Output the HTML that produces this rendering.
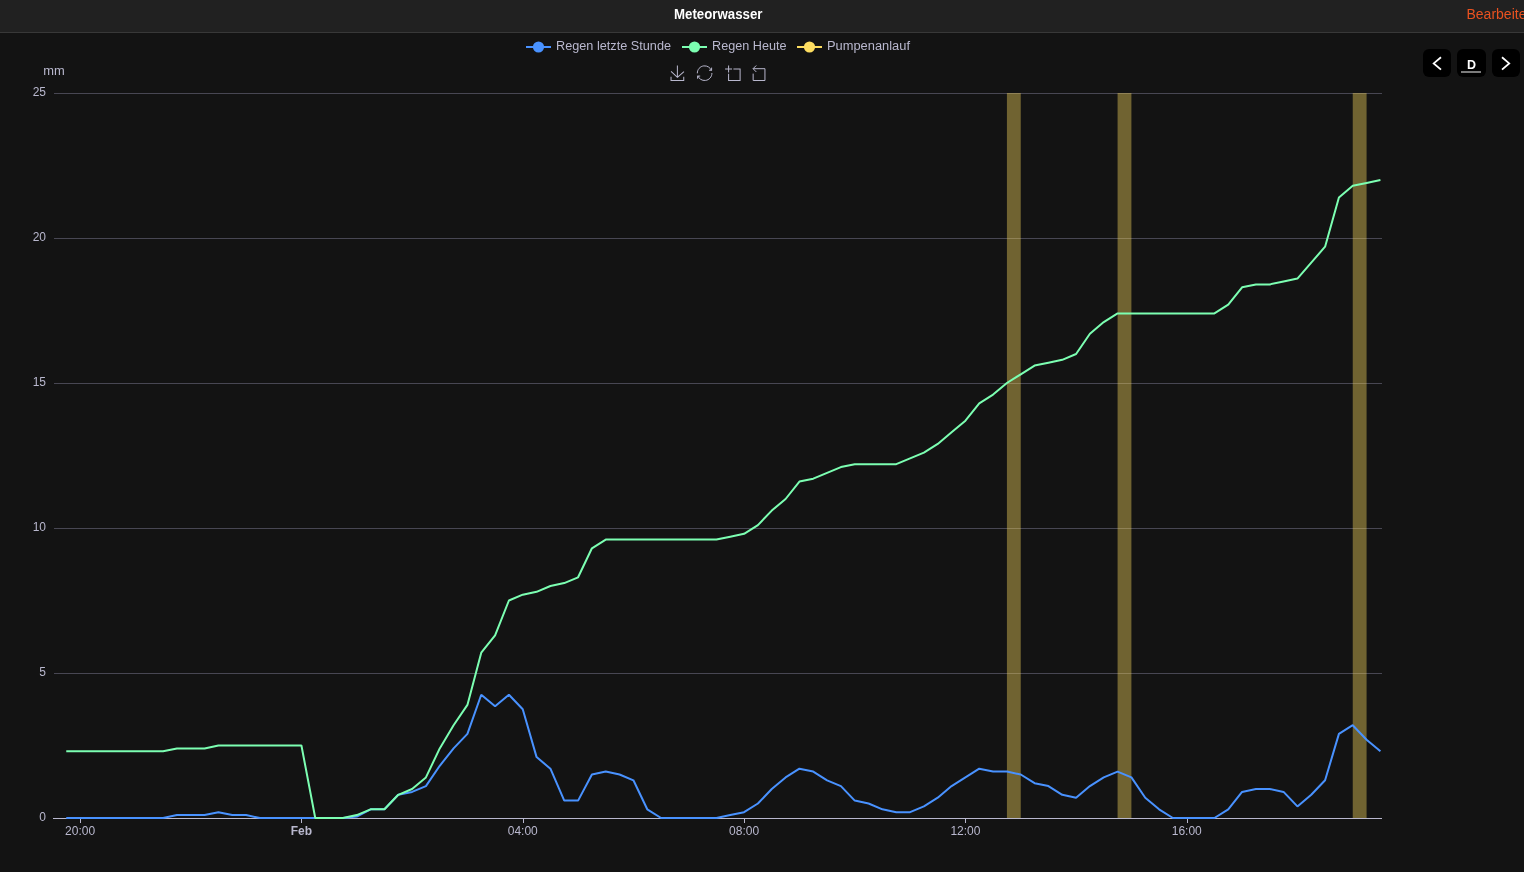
<!DOCTYPE html>
<html><head><meta charset="utf-8"><title>Meteorwasser</title>
<style>
svg{will-change:transform;}
html,body{margin:0;padding:0;width:1524px;height:872px;overflow:hidden;background:#131313;}
.hdr{position:absolute;left:0;top:0;width:1524px;height:32px;background:#212121;border-bottom:1px solid #383838;}
.title{position:absolute;left:0;top:0;width:1436px;text-align:center;}
.btn{position:absolute;top:49px;width:28px;height:28px;background:#000;border-radius:6px;}
</style></head>
<body>
<div class="hdr"></div>
<svg width="1524" height="33" style="position:absolute;left:0;top:0">
<text x="674" y="19" font-family='"Liberation Sans", "Noto Sans CJK SC", sans-serif' font-size="14" font-weight="bold" fill="#ffffff" textLength="88.5" lengthAdjust="spacingAndGlyphs">Meteorwasser</text>
<text x="1466.5" y="19" font-family='"Liberation Sans", "Noto Sans CJK SC", sans-serif' font-size="14" fill="#ea5220">Bearbeiten</text>
</svg>
<svg width="1524" height="872" viewBox="0 0 1524 872" style="position:absolute;left:0;top:0">
<g stroke="#484753" stroke-width="1" shape-rendering="crispEdges"><line x1="54" y1="93.5" x2="1382" y2="93.5"/><line x1="54" y1="238.5" x2="1382" y2="238.5"/><line x1="54" y1="383.5" x2="1382" y2="383.5"/><line x1="54" y1="528.5" x2="1382" y2="528.5"/><line x1="54" y1="673.5" x2="1382" y2="673.5"/></g>
<g fill="#B9B8CE" font-family='"Liberation Sans", "Noto Sans CJK SC", sans-serif' font-size="12" text-anchor="end"><text x="46" y="821.2">0</text><text x="46" y="676.2">5</text><text x="46" y="531.2">10</text><text x="46" y="386.2">15</text><text x="46" y="241.2">20</text><text x="46" y="96.2">25</text></g>
<text x="54" y="75.2" textLength="21.5" lengthAdjust="spacingAndGlyphs" fill="#B9B8CE" font-family='"Liberation Sans", "Noto Sans CJK SC", sans-serif' font-size="12" text-anchor="middle">mm</text>
<g stroke="#B9B8CE" stroke-width="1" shape-rendering="crispEdges"><line x1="53" y1="818.5" x2="1382" y2="818.5"/><line x1="80.5" y1="818.5" x2="80.5" y2="823"/><line x1="301.5" y1="818.5" x2="301.5" y2="823"/><line x1="523.5" y1="818.5" x2="523.5" y2="823"/><line x1="744.5" y1="818.5" x2="744.5" y2="823"/><line x1="965.5" y1="818.5" x2="965.5" y2="823"/><line x1="1187.5" y1="818.5" x2="1187.5" y2="823"/></g>
<g fill="rgba(253,221,96,0.4)"><rect x="1006.92" y="93" width="13.83" height="725"/><rect x="1117.58" y="93" width="13.83" height="725"/><rect x="1352.75" y="93" width="13.83" height="725"/></g>
<polyline points="66.25,818.00 80.08,818.00 93.92,818.00 107.75,818.00 121.58,818.00 135.42,818.00 149.25,818.00 163.08,818.00 176.92,815.10 190.75,815.10 204.58,815.10 218.42,812.20 232.25,815.10 246.08,815.10 259.92,818.00 273.75,818.00 287.58,818.00 301.42,818.00 315.25,818.00 329.08,818.00 342.92,818.00 356.75,816.55 370.58,809.30 384.42,809.30 398.25,794.80 412.08,791.90 425.92,786.10 439.75,765.80 453.58,748.40 467.42,733.90 481.25,694.75 495.08,706.35 508.92,694.75 522.75,709.25 536.58,757.10 550.42,768.70 564.25,800.60 578.08,800.60 591.92,774.50 605.75,771.60 619.58,774.50 633.42,780.30 647.25,809.30 661.08,818.00 674.92,818.00 688.75,818.00 702.58,818.00 716.42,818.00 730.25,815.10 744.08,812.20 757.92,803.50 771.75,789.00 785.58,777.40 799.42,768.70 813.25,771.60 827.08,780.30 840.92,786.10 854.75,800.60 868.58,803.50 882.42,809.30 896.25,812.20 910.08,812.20 923.92,806.40 937.75,797.70 951.58,786.10 965.42,777.40 979.25,768.70 993.08,771.60 1006.92,771.60 1020.75,774.50 1034.58,783.20 1048.42,786.10 1062.25,794.80 1076.08,797.70 1089.92,786.10 1103.75,777.40 1117.58,771.60 1131.42,777.40 1145.25,797.70 1159.08,809.30 1172.92,818.00 1186.75,818.00 1200.58,818.00 1214.42,818.00 1228.25,809.30 1242.08,791.90 1255.92,789.00 1269.75,789.00 1283.58,791.90 1297.42,806.40 1311.25,794.80 1325.08,780.30 1338.92,733.90 1352.75,725.20 1366.58,739.70 1380.42,751.30" fill="none" stroke="#4992ff" stroke-width="2" stroke-linejoin="bevel"/>
<polyline points="66.25,751.30 80.08,751.30 93.92,751.30 107.75,751.30 121.58,751.30 135.42,751.30 149.25,751.30 163.08,751.30 176.92,748.40 190.75,748.40 204.58,748.40 218.42,745.50 232.25,745.50 246.08,745.50 259.92,745.50 273.75,745.50 287.58,745.50 301.42,745.50 315.25,818.00 329.08,818.00 342.92,818.00 356.75,815.10 370.58,809.30 384.42,809.30 398.25,794.80 412.08,789.00 425.92,777.40 439.75,748.40 453.58,725.20 467.42,704.90 481.25,652.70 495.08,635.30 508.92,600.50 522.75,594.70 536.58,591.80 550.42,586.00 564.25,583.10 578.08,577.30 591.92,548.30 605.75,539.60 619.58,539.60 633.42,539.60 647.25,539.60 661.08,539.60 674.92,539.60 688.75,539.60 702.58,539.60 716.42,539.60 730.25,536.70 744.08,533.80 757.92,525.10 771.75,510.60 785.58,499.00 799.42,481.60 813.25,478.70 827.08,472.90 840.92,467.10 854.75,464.20 868.58,464.20 882.42,464.20 896.25,464.20 910.08,458.40 923.92,452.60 937.75,443.90 951.58,432.30 965.42,420.70 979.25,403.30 993.08,394.60 1006.92,383.00 1020.75,374.30 1034.58,365.60 1048.42,362.70 1062.25,359.80 1076.08,354.00 1089.92,333.70 1103.75,322.10 1117.58,313.40 1131.42,313.40 1145.25,313.40 1159.08,313.40 1172.92,313.40 1186.75,313.40 1200.58,313.40 1214.42,313.40 1228.25,304.70 1242.08,287.30 1255.92,284.40 1269.75,284.40 1283.58,281.50 1297.42,278.60 1311.25,262.65 1325.08,246.70 1338.92,197.40 1352.75,185.80 1366.58,182.90 1380.42,180.00" fill="none" stroke="#7cffb2" stroke-width="2" stroke-linejoin="bevel"/>
<g fill="#B9B8CE" font-family='"Liberation Sans", "Noto Sans CJK SC", sans-serif' font-size="12" text-anchor="middle"><text x="80.08" y="835">20:00</text><text x="301.42" y="835" font-weight="bold">Feb</text><text x="522.75" y="835">04:00</text><text x="744.08" y="835">08:00</text><text x="965.42" y="835">12:00</text><text x="1186.75" y="835">16:00</text></g>
<g font-family='"Liberation Sans", "Noto Sans CJK SC", sans-serif' font-size="12" fill="#B9B8CE">
 <line x1="526" y1="47" x2="551" y2="47" stroke="#4992ff" stroke-width="2"/><circle cx="538.5" cy="47" r="5.6" fill="#4992ff"/>
 <text x="556" y="50.3" textLength="115" lengthAdjust="spacingAndGlyphs">Regen letzte Stunde</text>
 <line x1="682" y1="47" x2="707" y2="47" stroke="#7cffb2" stroke-width="2"/><circle cx="694.5" cy="47" r="5.6" fill="#7cffb2"/>
 <text x="712" y="50.3" textLength="74.5" lengthAdjust="spacingAndGlyphs">Regen Heute</text>
 <line x1="797" y1="47" x2="822" y2="47" stroke="#fddd60" stroke-width="2"/><circle cx="809.5" cy="47" r="5.6" fill="#fddd60"/>
 <text x="827" y="50.3" textLength="83" lengthAdjust="spacingAndGlyphs">Pumpenanlauf</text>
</g>
<path d="M4.7,22.9L29.3,45.5L54.7,23.4M4.6,43.6L4.6,58L53.8,58L53.8,43.6M29.2,45.1L29.2,0" transform="translate(669.832,65.500) scale(0.25862)" fill="none" stroke="#B9B8CE" stroke-width="3.867"/><path d="M47,18.9h9.8V8.7 M56.3,20.1 C52.1,9,40.5,0.6,26.8,2.1C12.6,3.7,1.6,16.2,2.1,30.6 M13,41.1H3.1v10.2 M3.7,39.9c4.2,11.1,15.8,19.5,29.5,18 c14.2-1.6,25.2-14.1,24.7-28.5" transform="translate(696.791,65.343) scale(0.26087)" fill="none" stroke="#B9B8CE" stroke-width="3.833"/><path d="M0,13.5h26.9 M13.5,26.9V0 M32.1,13.5H58V58H13.5 V32.1" transform="translate(725.100,65.500) scale(0.25862)" fill="none" stroke="#B9B8CE" stroke-width="3.867"/><path d="M22,1.4L9.9,13.5l12.3,12.3 M10.3,13.5H54.9v44.6 H10.3v-26" transform="translate(750.429,65.130) scale(0.26455)" fill="none" stroke="#B9B8CE" stroke-width="3.780"/>
</svg>
<div class="btn" style="left:1423px"></div>
<div class="btn" style="left:1457px;width:29px"></div>
<div class="btn" style="left:1492px"></div>
<svg width="1524" height="100" style="position:absolute;left:0;top:0">
<polyline points="1441,57.2 1433.7,63.4 1441,69.6" fill="none" stroke="#fff" stroke-width="1.8"/>
<polyline points="1502,57.2 1509.2,63.4 1502,69.6" fill="none" stroke="#fff" stroke-width="1.8"/>
<text x="1471.5" y="69" font-family='"Liberation Sans", "Noto Sans CJK SC", sans-serif' font-size="12.5" font-weight="bold" fill="#fff" text-anchor="middle">D</text>
<rect x="1461" y="71" width="20" height="2" fill="#7a7a7a"/>
</svg>
</body></html>
